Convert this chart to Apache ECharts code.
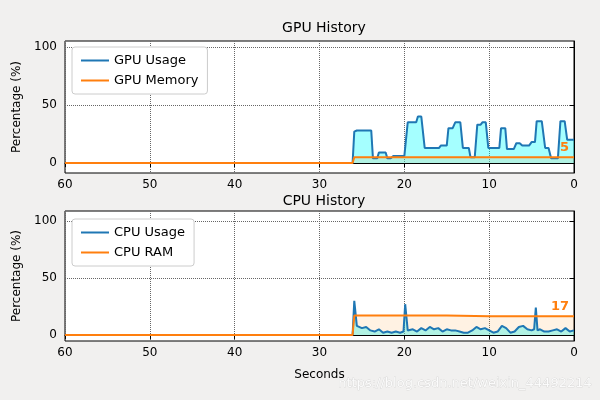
<!DOCTYPE html>
<html>
<head>
<meta charset="utf-8">
<style>html,body{margin:0;background:#f1f0ef;}</style>
</head>
<body>
<div id="main" style="width:600px;height:400px;"></div>
<script src="https://cdn.jsdelivr.net/npm/echarts@6/dist/echarts.min.js"></script>
<script>
// [seconds ago, percent]
var gpuUsage = [[60,0],[26.1,0],[25.9,27],[25.6,28],[23.9,28],[23.7,4],[23.2,4],[23,9],[22.2,9],[22,4],[21.6,4],[21.3,6],[20,6],[19.8,7],[19.6,35],[18.6,35],[18.4,40],[18,40],[17.6,13],[15.9,13],[15.7,15],[15,15],[14.8,30],[14.3,30],[14,35],[13.4,35],[13.1,13],[12.4,13],[12.2,5],[11.7,5],[11.4,33],[11,33],[10.8,35],[10.4,35],[10.1,13],[8.8,13],[8.6,30],[8.1,30],[7.9,12],[7.1,12],[6.8,17],[6.4,17],[6.1,15],[5.3,15],[5,18],[4.6,18],[4.4,36],[3.8,36],[3.4,13],[3,13],[2.7,4],[1.9,4],[1.6,36],[1.1,36],[0.8,20],[0,20]];
var gpuMemory = [[60,0],[26.1,0],[25.9,5],[0,5]];
var cpuUsage = [[60,0],[26.1,0],[25.9,30],[25.6,8],[25,6],[24.5,7],[24,4],[23.5,3],[23,5],[22.5,2],[22,3],[21.5,2],[21,3],[20.5,2],[20.1,3],[19.9,27],[19.6,4],[19,5],[18.5,3],[18,6],[17.5,4],[17,7],[16.5,5],[16,6],[15.5,3],[15,5],[14.5,4],[14,4],[13.5,3],[13,2],[12.5,2],[12,4],[11.5,7],[11,5],[10.5,6],[10,4],[9.5,2],[9,3],[8.5,8],[8,6],[7.5,2],[7,3],[6.5,7],[6,8],[5.5,5],[5,4],[4.7,5],[4.5,24],[4.3,4],[4,5],[3.5,3],[3,3],[2.5,4],[2,5],[1.5,3],[1,6],[0.5,3],[0,4]];
var cpuRam = [[60,0],[26.1,0],[25.9,17],[20,17],[15,17],[10,16.5],[5,16.5],[0,16.5]];
var xTicks = [60,50,40,30,20,10,0];
var yTicks = [0,50,100];

var font = 'DejaVu Sans';
var chart = echarts.init(document.getElementById('main'));

function xAxis(idx, name) {
  return {
    type: 'value', gridIndex: idx, inverse: true, min: 0, max: 60, interval: 10,
    name: name, nameLocation: 'middle', nameGap: 28,
    nameTextStyle: {color: '#000', fontSize: 12, fontFamily: font},
    axisLine: {lineStyle: {color: '#000'}},
    axisTick: {inside: false, length: 4, lineStyle: {color: '#000'}},
    axisLabel: {color: '#000', fontSize: 12, fontFamily: font, margin: 6},
    splitLine: {show: true, lineStyle: {color: '#666', type: 'dotted'}}
  };
}
function yAxis(idx, min, max) {
  return {
    type: 'value', gridIndex: idx, min: min, max: max,
    name: 'Percentage (%)', nameLocation: 'middle', nameGap: 40,
    nameTextStyle: {color: '#000', fontSize: 12, fontFamily: font},
    axisLine: {show: true, lineStyle: {color: '#000'}},
    axisTick: {show: true, length: 4, customValues: yTicks, lineStyle: {color: '#000'}},
    axisLabel: {color: '#000', fontSize: 12, fontFamily: font, customValues: yTicks},
    splitLine: {show: true, lineStyle: {color: '#666', type: 'dotted'}}
  };
}
function usageSeries(name, data, idx) {
  return {name: name, type: 'line', xAxisIndex: idx, yAxisIndex: idx, data: data,
    symbol: 'none', lineStyle: {color: '#1f77b4', width: 2}, itemStyle: {color: '#1f77b4'},
    areaStyle: {color: 'rgba(0,255,255,0.5)', origin: 'auto'}};
}
function memSeries(name, data, idx, lbl) {
  return {name: name, type: 'line', xAxisIndex: idx, yAxisIndex: idx, data: data,
    symbol: 'none', z: 3, lineStyle: {color: '#ff7f0e', width: 2}, itemStyle: {color: '#ff7f0e'},
    areaStyle: {color: 'rgba(255,160,60,0.2)', origin: 'auto'},
    endLabel: {show: true, formatter: lbl, color: '#ff7f0e', fontWeight: 'bold',
      fontSize: 13, fontFamily: font, offset: [3, -10]}};
}
function legend(idx, names, top) {
  return {gridIndex: idx, left: 72, top: top, orient: 'vertical', itemGap: 7,
    data: names, backgroundColor: '#fff', borderColor: '#ccc', borderWidth: 1, borderRadius: 3,
    padding: [7, 9], itemWidth: 28, itemHeight: 2, icon: 'rect',
    textStyle: {color: '#000', fontSize: 13, fontFamily: font}};
}

chart.setOption({
  backgroundColor: '#f1f0ef',
  animation: false,
  title: [
    {text: 'GPU History', left: 319, top: 16, textAlign: 'center', textStyle: {fontSize: 14, fontWeight: 'normal', fontFamily: font, color: '#000'}},
    {text: 'CPU History', left: 319, top: 189, textAlign: 'center', textStyle: {fontSize: 14, fontWeight: 'normal', fontFamily: font, color: '#000'}}
  ],
  legend: [legend(0, ['GPU Usage', 'GPU Memory'], 47), legend(1, ['CPU Usage', 'CPU RAM'], 219)],
  grid: [
    {left: 65, right: 26, top: 41, height: 132, show: true, backgroundColor: '#fff', borderColor: '#000', borderWidth: 1},
    {left: 65, right: 26, top: 211, height: 130, show: true, backgroundColor: '#fff', borderColor: '#000', borderWidth: 1}
  ],
  xAxis: [xAxis(0, ''), xAxis(1, 'Seconds')],
  yAxis: [yAxis(0, -8.6, 105), yAxis(1, -5.3, 108.8)],
  series: [
    usageSeries('GPU Usage', gpuUsage, 0), memSeries('GPU Memory', gpuMemory, 0, '5'),
    usageSeries('CPU Usage', cpuUsage, 1), memSeries('CPU RAM', cpuRam, 1, '17')
  ],
  graphic: [{type: 'text', right: 8, bottom: 10, style: {text: 'https://blog.csdn.net/weixin_44492214',
    fill: 'rgba(255,255,255,0.85)', stroke: 'rgba(180,180,180,0.6)', lineWidth: 0.5, fontSize: 13, fontFamily: font}}]
});
</script>
</body>
</html>
